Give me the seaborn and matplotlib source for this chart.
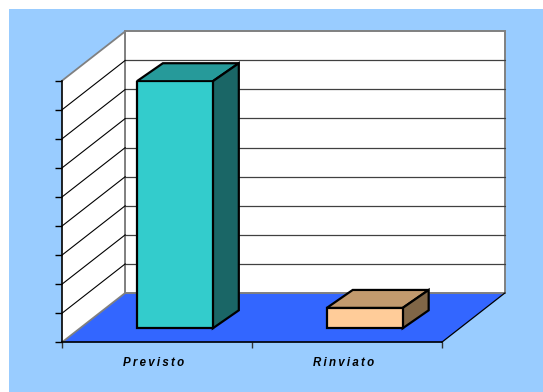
import matplotlib
matplotlib.use("Agg")
import matplotlib.pyplot as plt
from matplotlib.patches import Polygon, Rectangle
from matplotlib.transforms import ScaledTranslation
import seaborn as sns
import pandas as pd

# Data
categories = ["Previsto", "Rinviato"]
values = [85, 7]
value_ticks = [0, 10, 20, 30, 40, 50, 60, 70, 80, 90]

# Face colours per bar (front, top, side)
front_colors = ["#33CCCC", "#FFCC99"]
top_colors = ["#269A9A", "#C29A6E"]
side_colors = ["#1A6666", "#806647"]

BG = "#99CCFF"
FLOOR = "#3366FF"
EDGE_GREY = "#808080"

sns.set_theme(style="white")
plt.rcParams["font.family"] = ["Liberation Sans", "DejaVu Sans"]

fig = plt.figure(figsize=(5.43, 3.92), dpi=100)
fig.patch.set_facecolor("white")
fig.patches.append(Rectangle((9 / 543, 0), 1, (392 - 9) / 392,
                             transform=fig.transFigure, facecolor=BG,
                             edgecolor="none", zorder=-10))

# Axes = the front plane of the 3D box
ax = fig.add_axes([62 / 543, (392 - 342.3) / 392, 379.7 / 543, 261.6 / 392])
ax.set_facecolor("none")

ymax = value_ticks[-1]
x0, x1 = -0.5, len(categories) - 0.5
# oblique depth vector of the box in data units
DX, DY = 0.3334, 17.0
# bars sit partway into the box, with their own depth
FRONT = 0.283
BDX, BDY = 0.137, 6.2

df = pd.DataFrame({"categoria": categories, "valore": values})
sns.barplot(data=df, x="categoria", y="valore", hue="categoria",
            palette=front_colors, width=0.4, legend=False, ax=ax,
            edgecolor="black", linewidth=1.6, saturation=1, zorder=5)

ax.set_xlim(x0, x1)
ax.set_ylim(0, ymax)

# floor
ax.add_patch(Polygon([(x0, 0), (x1, 0), (x1 + DX, DY), (x0 + DX, DY)],
                     closed=True, facecolor=FLOOR, edgecolor="none",
                     clip_on=False, zorder=0.2))
ax.plot([x1, x1 + DX], [0, DY], color="black", lw=0.9, clip_on=False, zorder=0.3)
ax.plot([x0, x0 + DX], [0, DY], color=EDGE_GREY, lw=1.3, clip_on=False, zorder=0.3)

# back wall
ax.add_patch(Polygon([(x0 + DX, DY), (x1 + DX, DY), (x1 + DX, ymax + DY),
                      (x0 + DX, ymax + DY)], closed=True, facecolor="white",
                     edgecolor=EDGE_GREY, lw=1.4, clip_on=False, zorder=0.2))
# side wall
ax.add_patch(Polygon([(x0, 0), (x0 + DX, DY), (x0 + DX, ymax + DY), (x0, ymax)],
                     closed=True, facecolor="white", edgecolor="none",
                     clip_on=False, zorder=0.2))
ax.plot([x0, x0 + DX], [ymax, ymax + DY], color=EDGE_GREY, lw=1.3,
        clip_on=False, zorder=0.3)
ax.plot([x0 + DX, x0 + DX], [DY, ymax + DY], color=EDGE_GREY, lw=1.4,
        clip_on=False, zorder=0.3)

# gridlines on back and side walls
for t in value_ticks[1:-1]:
    ax.plot([x0 + DX, x1 + DX], [t + DY, t + DY], color="#404040", lw=0.9,
            clip_on=False, zorder=0.4)
    ax.plot([x0, x0 + DX], [t, t + DY], color="black", lw=0.8,
            clip_on=False, zorder=0.4)

# push front faces into the box and add top / side faces
bars = [p for p in ax.patches if isinstance(p, Rectangle)]
for bar, ctop, cside in zip(bars, top_colors, side_colors):
    bx, bw, bh = bar.get_x(), bar.get_width(), bar.get_height()
    bar.set_x(bx + FRONT * DX)
    bar.set_y(FRONT * DY)
    lx = bx + FRONT * DX
    rx = lx + bw
    yb = FRONT * DY
    yt = yb + bh
    ax.add_patch(Polygon([(lx, yt), (rx, yt), (rx + BDX, yt + BDY), (lx + BDX, yt + BDY)],
                         closed=True, facecolor=ctop, edgecolor="black", lw=1.6,
                         joinstyle="miter", clip_on=False, zorder=4.5))
    ax.add_patch(Polygon([(rx, yb), (rx + BDX, yb + BDY), (rx + BDX, yt + BDY), (rx, yt)],
                         closed=True, facecolor=cside, edgecolor="black", lw=1.6,
                         joinstyle="miter", clip_on=False, zorder=4.5))

# axes lines and ticks
for s in ["top", "right"]:
    ax.spines[s].set_visible(False)
for s in ["left", "bottom"]:
    ax.spines[s].set_color("black")
    ax.spines[s].set_linewidth(1.2)
    ax.spines[s].set_zorder(3)

ax.set_yticks(value_ticks)
ax.set_yticklabels([])
ax.tick_params(axis="y", direction="out", length=5, width=1, color="black", left=True)

spaced = ["\u2009".join(c) for c in categories]
ax.set_xticks(range(len(categories)))
ax.set_xticklabels(spaced, fontsize=8.3, fontweight="bold", fontstyle="italic",
                   color="black")
ax.tick_params(axis="x", which="major", length=0, pad=10.5)
for lab in ax.get_xticklabels():
    lab.set_transform(lab.get_transform() + ScaledTranslation(-0.03, 0, fig.dpi_scale_trans))
ax.set_xticks([x0 + i for i in range(len(categories) + 1)], minor=True)
ax.tick_params(axis="x", which="minor", direction="out", length=4.5, width=1,
               color="#333333", bottom=True)
ax.set_xlabel("")
ax.set_ylabel("")

fig.savefig("out.png", dpi=100, facecolor=fig.get_facecolor())
